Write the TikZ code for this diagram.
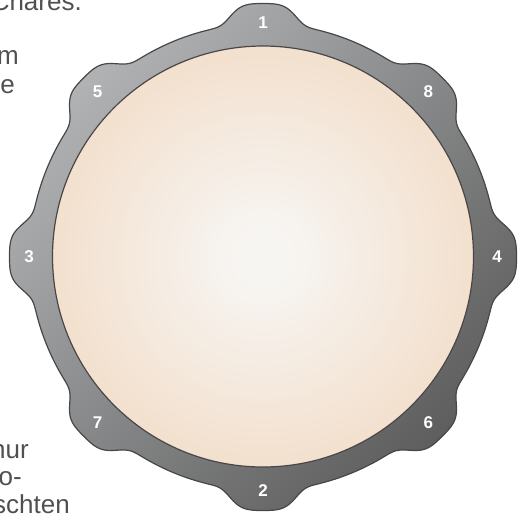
\documentclass[tikz,border=0pt]{standalone}
\usepackage{fontspec}
\setmainfont{Liberation Sans}
\usepackage{xcolor}
\usepackage{tikz}
\usetikzlibrary{positioning,calc}
\definecolor{RingLight}{HTML}{B0B2B4}
\definecolor{RingDark}{HTML}{5E5E5E}
\definecolor{RingLine}{HTML}{474747}
\definecolor{DiscIn}{HTML}{F7F5F2}
\definecolor{DiscOut}{HTML}{F3E0CE}
\definecolor{BodyGray}{HTML}{505050}
\pgfdeclareradialshading{discshade}{\pgfpoint{0bp}{0bp}}{color(0bp)=(DiscIn); color(3bp)=(DiscIn); color(25bp)=(DiscOut); color(50bp)=(DiscOut)}

\begin{document}
\begin{tikzpicture}[x=1pt,y=-1pt,
 declare function={dd(\t)=(mod(\t+22.5,45)-22.5)/8.3; rr(\t)=233.5+20*exp(-min(dd(\t)*dd(\t)*dd(\t)*dd(\t),20));},
 ring/.style={draw=RingLine,line width=1.2pt,top color=RingLight,bottom color=RingDark,shading angle=45},
 disc/.style={draw=RingLine,line width=1.2pt,circle,inner sep=0pt,minimum size=421pt,shading=discshade},
 ringlabel/.style={text=white,font=\bfseries\fontsize{17}{17}\selectfont,inner sep=0pt},
 bodytext/.style={text=BodyGray,font=\fontsize{26}{28}\selectfont,inner sep=0pt}]
\clip (0,0) rectangle (524,515);
% ring with eight knobs
\path[ring] plot[domain=0:360,samples=721,variable=\t] ({263+rr(\t)*cos(\t)},{257-rr(\t)*sin(\t)}) -- cycle;
\node[disc] (disc) at (263,256.5) {};
% knob numbers
\foreach \a/\n in {90/1,270/2,180/3,0/4,135/5,315/6,225/7,45/8}
  \node[ringlabel] (lbl\n) at ({263+234*cos(\a)},{257-234*sin(\a)}) {\n};
% cut-off text at the left margin
\node[bodytext,anchor=base east] (txtA) at (82,10) {Chares.};
\node[bodytext,anchor=base east] (txtB) at (19,64) {m};
\node[bodytext,anchor=base east] (txtC) at (15,93) {e};
\node[bodytext,anchor=base east] (txtD) at (29,458) {nur};
\node[bodytext,anchor=base east] (txtE) at (22,485) {o-};
\node[bodytext,anchor=base east] (txtF) at (70,513) {schten};
\end{tikzpicture}
\end{document}
